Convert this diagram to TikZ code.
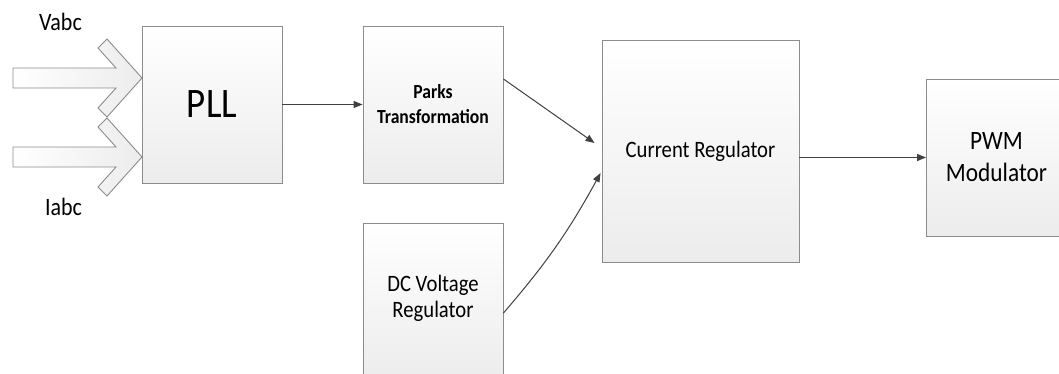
\documentclass[tikz,border=0pt]{standalone}
\usepackage{fontspec}
\setmainfont[FakeStretch=0.88]{Carlito}
\usetikzlibrary{arrows.meta,calc}
\definecolor{boxline}{HTML}{8C8C8C}
\definecolor{boxbot}{HTML}{ECECEC}
\definecolor{arrline}{HTML}{404040}
\tikzset{
  blockbox/.style={draw=boxline, line width=0.9pt, top color=white, bottom color=boxbot,
    minimum width=140pt, minimum height=157pt, inner sep=0pt, align=center},
  conn/.style={draw=arrline, line width=1pt, -{Triangle[length=9pt,width=7pt]}},
  bigarrow/.style={draw=boxline, line width=0.9pt, left color=white, right color=boxbot, line join=miter},
  lbl/.style={anchor=base, inner sep=0pt, font=\fontsize{25}{29}\selectfont}
}
\begin{document}
\begin{tikzpicture}[x=1pt,y=-1pt]
\useasboundingbox (0,0) rectangle (1059,374);
\begin{scope}
\clip (0,0) rectangle (1059,374);
% boxes
\node[blockbox, font=\fontsize{42}{46}\selectfont] (pll) at (212,104.5) {PLL};
\node[blockbox, font=\fontsize{20}{25}\selectfont\bfseries] (parks) at (433,104.5) {Parks\\Transformation};
\node[blockbox] (dc) at (433,301.5) {};
\node[align=center, inner sep=0pt, font=\fontsize{23.5}{26}\selectfont] (dctext) at ($(dc.center)+(0,-3.5)$) {DC Voltage\\Regulator};
\node[blockbox, minimum width=197pt, minimum height=222pt, font=\fontsize{23.5}{27}\selectfont] (cur) at (700.5,151) {Current Regulator};
\node[blockbox, font=\fontsize{26.5}{32}\selectfont] (pwm) at (996.5,157.5) {PWM\\Modulator};
\end{scope}
% block input arrows
\path[bigarrow] (13,68) -- (116,68) -- (98,48) -- (107,39) -- (142,78) -- (107,117) -- (98,108) -- (116,88) -- (13,88) -- cycle;
\path[bigarrow] (13,147) -- (116,147) -- (98,127) -- (107,118) -- (142,157) -- (107,196) -- (98,187) -- (116,167) -- (13,167) -- cycle;
% labels
\node[lbl] (vabc) at (60.5,31) {Vabc};
\node[lbl] (iabc) at (63.5,215) {Iabc};
% connectors
\draw[conn] (pll.east) -- (parks.west);
\coordinate (pkout) at ($(parks.east)+(0,-25.5)$);
\coordinate (curin1) at ($(cur.west)+(-7,-8)$);
\draw[conn] (pkout) -- (curin1);
\coordinate (dcout) at ($(dc.east)+(0,11.5)$);
\coordinate (curin2) at ($(cur.west)+(-1,22)$);
\draw[conn] (dcout) to[bend right=6] (curin2);
\draw[conn] (pwm.west -| cur.east) -- (pwm.west);
\end{tikzpicture}
\end{document}
